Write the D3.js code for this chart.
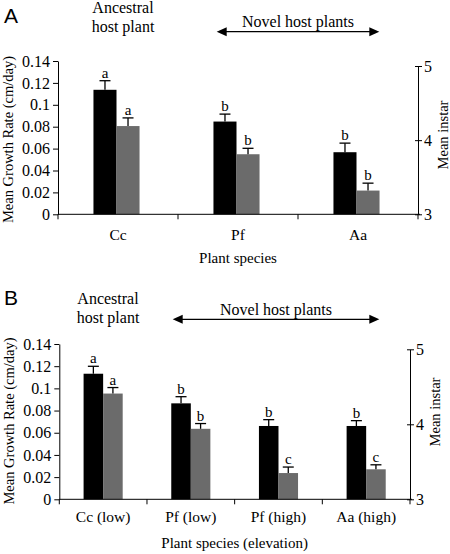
<!DOCTYPE html>
<html><head><meta charset="utf-8">
<script src="https://cdn.jsdelivr.net/npm/d3@7/dist/d3.min.js"></script>
<style>
html,body{margin:0;padding:0;background:#fff;}
</style></head>
<body>
<svg id="c" width="450" height="554"></svg>
<script>
// ---------- Data ----------
const catsA = ["Cc", "Pf", "Aa"];
const growthA = [0.1137, 0.0847, 0.0567];
const growthErrA = [0.0083, 0.0068, 0.0083];
const growthLetA = ["a", "b", "b"];
const instarA = [4.19, 3.81, 3.32];
const instarErrA = [0.11, 0.08, 0.10];
const instarLetA = ["a", "b", "b"];

const catsB = ["Cc (low)", "Pf (low)", "Pf (high)", "Aa (high)"];
const growthB = [0.1132, 0.0865, 0.0661, 0.0661];
const growthErrB = [0.0067, 0.0060, 0.0057, 0.0048];
const growthLetB = ["a", "b", "b", "b"];
const instarB = [4.41, 3.94, 3.35, 3.40];
const instarErrB = [0.08, 0.07, 0.08, 0.06];
const instarLetB = ["a", "b", "c", "c"];

const leftTicks = [0, 0.02, 0.04, 0.06, 0.08, 0.1, 0.12, 0.14];
const leftTickLabels = ["0", "0.02", "0.04", "0.06", "0.08", "0.1", "0.12", "0.14"];
const rightTicks = [3, 4, 5];
const rightTickLabels = ["3", "4", "5"];

const SERIF = '"Liberation Serif","Times New Roman",serif';
const SANS = '"Liberation Sans",Arial,sans-serif';
const svg = d3.select("#c");

function txt(g, size, fam) {
  return g.append("text").style("font-family", fam || SERIF).style("font-size", size + "px").attr("fill", "#000");
}

function drawPanel(o) {
  const g = svg.append("g");
  const x = d3.scaleBand().domain(o.cats).range([o.x0, o.x1]);
  const yL = d3.scaleLinear().domain([0, 0.14]).range([o.yZero, o.yTopL]);
  const yR = d3.scaleLinear().domain([3, 5]).range([o.yZero, o.yTopR]);
  const w = x.bandwidth() * o.barFrac;
  const cx = d => x(d) + x.bandwidth() / 2 + o.off;

  // bars
  g.selectAll(".bk").data(o.cats).join("rect")
    .attr("x", d => cx(d) - w).attr("width", w)
    .attr("y", (d, i) => yL(o.growth[i]))
    .attr("height", (d, i) => yL(0) - yL(o.growth[i]))
    .attr("fill", "#000");
  g.selectAll(".gr").data(o.cats).join("rect")
    .attr("x", d => cx(d)).attr("width", w)
    .attr("y", (d, i) => yR(o.instar[i]))
    .attr("height", (d, i) => yR(3) - yR(o.instar[i]))
    .attr("fill", "#6b6b6b");

  // error bars + letters
  const eb = (xc, yb, yt, lab) => {
    g.append("line").attr("x1", xc).attr("x2", xc).attr("y1", yb).attr("y2", yt)
      .attr("stroke", "#000").attr("stroke-width", 1.3);
    g.append("line").attr("x1", xc - 5.5).attr("x2", xc + 5.5).attr("y1", yt).attr("y2", yt)
      .attr("stroke", "#000").attr("stroke-width", 1.3);
    txt(g, 15).attr("x", xc).attr("y", yt - 3).attr("text-anchor", "middle").text(lab);
  };
  o.cats.forEach((d, i) => {
    eb(cx(d) - w / 2, yL(o.growth[i]), yL(o.growth[i] + o.growthErr[i]), o.growthLet[i]);
    eb(cx(d) + w / 2, yR(o.instar[i]), yR(o.instar[i] + o.instarErr[i]), o.instarLet[i]);
  });

  // left axis
  const ga = g.append("g").attr("transform", `translate(${o.x0},0)`)
    .call(d3.axisLeft(yL).tickValues(leftTicks).tickFormat((d, i) => leftTickLabels[i])
      .tickSizeInner(5).tickSizeOuter(0).tickPadding(3));
  ga.selectAll("text").style("font-size", "16px").style("font-family", SERIF);
  // right axis
  const gr = g.append("g").attr("transform", `translate(${o.x1},0)`)
    .call(d3.axisRight(yR).tickValues(rightTicks).tickFormat((d, i) => rightTickLabels[i])
      .tickSizeInner(4).tickSizeOuter(0).tickPadding(2));
  gr.selectAll("text").style("font-size", "16px").style("font-family", SERIF);
  gr.selectAll(".tick line").attr("x1", -3);
  // x axis
  g.append("line").attr("x1", o.x0).attr("x2", o.x1 + 2).attr("y1", o.yZero).attr("y2", o.yZero)
    .attr("stroke", "#000").attr("stroke-width", 1);
  const bounds = o.cats.map(d => x(d)).concat([o.x1]);
  g.selectAll(".xt").data(bounds).join("line")
    .attr("x1", d => d).attr("x2", d => d).attr("y1", o.yZero).attr("y2", o.yZero + 5)
    .attr("stroke", "#000");
  o.cats.forEach(d => {
    txt(g, 15.5).attr("x", x(d) + x.bandwidth() / 2).attr("y", o.catY).attr("text-anchor", "middle").text(d);
  });

  // axis titles
  txt(g, 15).attr("x", (o.x0 + o.x1) / 2).attr("y", o.xTitleY).attr("text-anchor", "middle").text(o.xTitle);
  txt(g, 14.5).attr("transform", `translate(${o.x0 - 45.5},${o.lTitleCY}) rotate(-90)`)
    .attr("text-anchor", "middle").text("Mean Growth Rate (cm/day)");
  txt(g, 14.5).attr("transform", `translate(${o.x1 + 30},${o.rTitleCY}) rotate(-90)`)
    .attr("text-anchor", "middle").text("Mean instar");

  // panel letter
  txt(g, 21, SANS).attr("x", 4).attr("y", o.letterY).text(o.letter);
  // header
  txt(g, 16).attr("x", o.ancX).attr("y", o.ancY).attr("text-anchor", "middle").text("Ancestral");
  txt(g, 16).attr("x", o.ancX).attr("y", o.ancY + 18.5).attr("text-anchor", "middle").text("host plant");
  txt(g, 16).attr("x", (o.arX1 + o.arX2) / 2).attr("y", o.novY).attr("text-anchor", "middle").text("Novel host plants");
  g.append("line").attr("x1", o.arX1 + 8).attr("x2", o.arX2 - 8).attr("y1", o.arY).attr("y2", o.arY)
    .attr("stroke", "#000").attr("stroke-width", 1.3);
  const hl = 10, hh = 4.5;
  g.append("path").attr("d", `M${o.arX1},${o.arY}L${o.arX1 + hl},${o.arY - hh}L${o.arX1 + hl},${o.arY + hh}Z`).attr("fill", "#000");
  g.append("path").attr("d", `M${o.arX2},${o.arY}L${o.arX2 - hl},${o.arY - hh}L${o.arX2 - hl},${o.arY + hh}Z`).attr("fill", "#000");
}

drawPanel({
  cats: catsA, growth: growthA, growthErr: growthErrA, growthLet: growthLetA,
  instar: instarA, instarErr: instarErrA, instarLet: instarLetA,
  x0: 58, x1: 418, yZero: 214.3, yTopL: 61, yTopR: 66, barFrac: 0.192, off: -1.5,
  catY: 240, xTitleY: 262.5, xTitle: "Plant species", lTitleCY: 139.5, rTitleCY: 135,
  letter: "A", letterY: 23, ancX: 123, ancY: 13.3, novY: 26.5, arX1: 216.7, arX2: 379.3, arY: 31.7
});
drawPanel({
  cats: catsB, growth: growthB, growthErr: growthErrB, growthLet: growthLetB,
  instar: instarB, instarErr: instarErrB, instarLet: instarLetB,
  x0: 59.3, x1: 410, yZero: 499.3, yTopL: 344, yTopR: 349.3, barFrac: 0.223, off: 0,
  catY: 522, xTitleY: 548, xTitle: "Plant species (elevation)", lTitleCY: 421, rTitleCY: 412,
  letter: "B", letterY: 305, ancX: 108, ancY: 304.3, novY: 314.5, arX1: 172.7, arX2: 379.3, arY: 319.3
});
</script>
</body></html>
